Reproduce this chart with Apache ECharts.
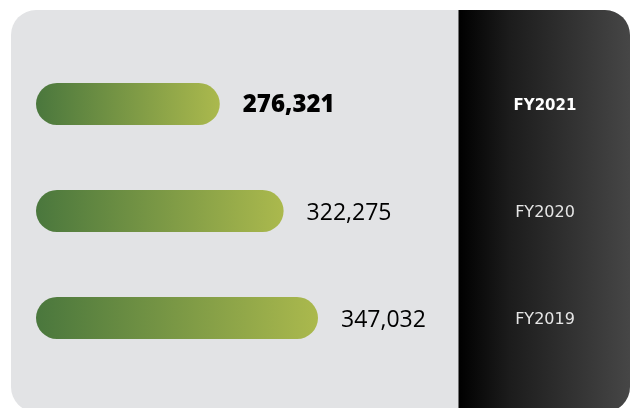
<!DOCTYPE html>
<html>
<head>
<meta charset="utf-8">
<script src="https://cdn.jsdelivr.net/npm/echarts@6/dist/echarts.min.js"></script>
<style>
html,body{margin:0;padding:0;background:#ffffff;}
#chart{width:630px;height:408px;}
</style>
</head>
<body>
<div id="chart"></div>
<script>
const categories = ['FY2021', 'FY2020', 'FY2019'];
const values = [276321, 322275, 347032];
const highlightCategory = 'FY2021';

function fmt(n) {
  return String(n).replace(/\B(?=(\d{3})+(?!\d))/g, ',');
}

const chart = echarts.init(document.getElementById('chart'), null, {renderer: 'canvas'});

const barGradient = new echarts.graphic.LinearGradient(0, 0, 1, 0, [
  {offset: 0, color: '#4a773d'},
  {offset: 1, color: '#abb94d'}
]);

const option = {
  backgroundColor: '#ffffff',
  animation: false,
  graphic: [
    {
      type: 'rect', z: -20, silent: true,
      shape: {x: 11, y: 10, width: 619, height: 402, r: 25},
      style: {fill: '#e2e3e5'}
    },
    {
      type: 'rect', z: -10, silent: true,
      shape: {x: 458.5, y: 10, width: 171.5, height: 402, r: [0, 25, 25, 0]},
      style: {
        fill: new echarts.graphic.LinearGradient(0, 0, 1, 0, [
          {offset: 0, color: '#000000'},
          {offset: 0.3, color: '#1c1c1c'},
          {offset: 1, color: '#464646'}
        ])
      }
    }
  ],
  grid: {left: 36, width: 420, top: 50.5, height: 321, containLabel: false},
  xAxis: {
    type: 'value', min: 144000, max: 446400,
    show: false
  },
  yAxis: {
    type: 'category', data: categories, inverse: true,
    position: 'right', z: 10,
    axisLine: {show: false}, axisTick: {show: false}, splitLine: {show: false},
    axisLabel: {
      margin: 89, align: 'center',
      formatter: function (v) {
        return v === highlightCategory ? '{b|' + v + '}' : '{n|' + v + '}';
      },
      rich: {
        b: {fontFamily: 'DejaVu Sans', fontWeight: 'bold', fontSize: 15, color: '#ffffff', padding: [4, 0, 0, 0]},
        n: {fontFamily: 'DejaVu Sans', fontWeight: 'normal', fontSize: 16, color: '#e6e6e6', padding: [4, 0, 0, 0]}
      }
    }
  },
  series: [{
    type: 'bar', z: 10,
    data: values.map(function (v, i) {
      const hi = categories[i] === highlightCategory;
      return {
        value: v,
        label: hi ? {fontWeight: 800, fontSize: 24, offset: [0, 1]} : {fontWeight: 400, fontSize: 23, offset: [0, 2]}
      };
    }),
    barWidth: 42,
    itemStyle: {color: barGradient, borderRadius: 21},
    label: {
      show: true, position: 'right', distance: 23,
      fontFamily: 'Open Sans', color: '#000000',
      formatter: function (p) { return fmt(p.value); }
    }
  }]
};
chart.setOption(option);
</script>
</body>
</html>
